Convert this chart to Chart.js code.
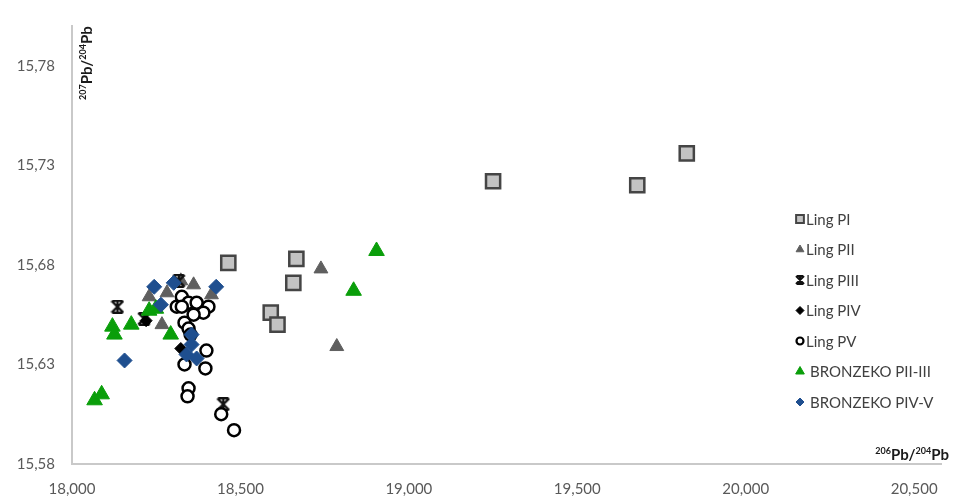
<!DOCTYPE html>
<html>
<head>
<meta charset="utf-8">
<script src="https://cdn.jsdelivr.net/npm/chart.js@4.4.1/dist/chart.umd.min.js"></script>
<style>
  body { margin: 0; background: #fff; }
  #wrap { width: 954px; height: 497px; }
</style>
</head>
<body>
<div id="wrap"><canvas id="graficoPb"></canvas></div>
<script>
// eixos
const xTicks = [18000, 18500, 19000, 19500, 20000, 20500];
const yTicks = [15.58, 15.63, 15.68, 15.73, 15.78];

// séries (206Pb/204Pb, 207Pb/204Pb)
const nomes = ['Ling PI', 'Ling PII', 'Ling PIII', 'Ling PIV', 'Ling PV', 'BRONZEKO PII-III', 'BRONZEKO PIV-V'];

const lingPI_x = [19825, 19678, 19250, 18464, 18666, 18657, 18590, 18610];
const lingPI_y = [15.736, 15.720, 15.722, 15.681, 15.683, 15.671, 15.656, 15.650];

const lingPII_x = [18739, 18786, 18361, 18323, 18267, 18229, 18414, 18282];
const lingPII_y = [15.678, 15.639, 15.670, 15.672, 15.650, 15.664, 15.665, 15.666];

const lingPIII_x = [18135, 18214, 18449, 18317];
const lingPIII_y = [15.659, 15.653, 15.610, 15.672];

const lingPIV_x = [18323, 18220];
const lingPIV_y = [15.638, 15.652];

const lingPV_x = [18326, 18311, 18346, 18370, 18405, 18390, 18334, 18346, 18352, 18399, 18334, 18396, 18346, 18343, 18443, 18481, 18326, 18361];
const lingPV_y = [15.664, 15.659, 15.661, 15.661, 15.659, 15.656, 15.651, 15.648, 15.645, 15.637, 15.630, 15.628, 15.618, 15.614, 15.605, 15.597, 15.659, 15.655];

const bronzePII_x = [18067, 18088, 18120, 18126, 18176, 18229, 18249, 18293, 18836, 18904];
const bronzePII_y = [15.612, 15.615, 15.649, 15.645, 15.650, 15.657, 15.658, 15.645, 15.667, 15.687];

const bronzePIV_x = [18244, 18302, 18264, 18428, 18156, 18355, 18340, 18370, 18355];
const bronzePIV_y = [15.669, 15.671, 15.660, 15.669, 15.632, 15.645, 15.635, 15.633, 15.640];

function pontos(xs, ys) {
    return xs.map((x, i) => ({ x: x, y: ys[i] }));
}

// marcador "estrela" do Excel (X com barra vertical e traços em cima/em baixo)
function marcadorEstrela(tam, cor, lw) {
    const c = document.createElement('canvas');
    c.width = tam; c.height = tam;
    const g = c.getContext('2d');
    g.strokeStyle = cor;
    g.lineWidth = lw;
    const a = lw / 2, b = tam - lw / 2, m = tam / 2;
    g.beginPath();
    g.moveTo(a, a); g.lineTo(b, b);
    g.moveTo(b, a); g.lineTo(a, b);
    g.moveTo(m, a); g.lineTo(m, b);
    g.moveTo(a + 1, a); g.lineTo(b - 1, a);
    g.moveTo(a + 1, b); g.lineTo(b - 1, b);
    g.stroke();
    return c;
}

const estrelaGrande = marcadorEstrela(14, '#111', 2.2);
const estrelaLegenda = marcadorEstrela(10, '#111', 2);

// estilo de cada série: [pointStyle, raio, preenchimento, borda, espessura]
const estilos = [
    ['rect', 10, '#c3c3c3', '#454545', 2.5],
    ['triangle', 8, '#5f5f5f', '#5f5f5f', 1],
    [estrelaGrande, 7, '#000', '#111', 2],
    ['rectRot', 6, '#000', '#000', 1],
    ['circle', 6, '#fff', '#000', 2.5],
    ['triangle', 9, '#0a9e0a', '#0a9e0a', 1],
    ['rectRot', 7.5, '#1f4f8f', '#1f4f8f', 1]
];
// marcadores da legenda: [pointStyle, raio, espessura]
const estilosLegenda = [
    ['rect', 5.5, 2],
    ['triangle', 4.5, 1],
    [estrelaLegenda, 5, 1],
    ['rectRot', 4, 1],
    ['circle', 3.5, 2.2],
    ['triangle', 5, 1],
    ['rectRot', 4, 1]
];

const dadosX = [lingPI_x, lingPII_x, lingPIII_x, lingPIV_x, lingPV_x, bronzePII_x, bronzePIV_x];
const dadosY = [lingPI_y, lingPII_y, lingPIII_y, lingPIV_y, lingPV_y, bronzePII_y, bronzePIV_y];

const datasets = nomes.map((nome, i) => ({
    label: nome,
    data: pontos(dadosX[i], dadosY[i]),
    pointStyle: estilos[i][0],
    pointRadius: estilos[i][1],
    pointHoverRadius: estilos[i][1],
    pointBackgroundColor: estilos[i][2],
    pointBorderColor: estilos[i][3],
    pointBorderWidth: estilos[i][4],
    showLine: false,
    order: nomes.length - i // a última série fica por cima
}));

const fonte = 'Lato, "Open Sans", sans-serif';

function desenharPartes(ctx, partes, x, y) {
    let cx = x;
    partes.forEach(([txt, sup]) => {
        ctx.font = sup ? 'bold 9px ' + fonte : 'bold 15px ' + fonte;
        ctx.fillText(txt, cx, sup ? y - 6 : y);
        cx += ctx.measureText(txt).width;
    });
    return cx - x;
}

function larguraPartes(ctx, partes) {
    let w = 0;
    partes.forEach(([txt, sup]) => {
        ctx.font = sup ? 'bold 9px ' + fonte : 'bold 15px ' + fonte;
        w += ctx.measureText(txt).width;
    });
    return w;
}

// títulos dos eixos e legenda dentro da área do gráfico
const extras = {
    id: 'extras',
    afterDraw(chart) {
        const ctx = chart.ctx;
        ctx.save();
        ctx.fillStyle = '#1a1a1a';
        ctx.textAlign = 'left';
        ctx.textBaseline = 'alphabetic';

        const tituloX = [['206', true], ['Pb/', false], ['204', true], ['Pb', false]];
        const wx = larguraPartes(ctx, tituloX);
        desenharPartes(ctx, tituloX, 949 - wx, 460);

        const tituloY = [['207', true], ['Pb/', false], ['204', true], ['Pb', false]];
        ctx.save();
        ctx.translate(92, 100);
        ctx.rotate(-Math.PI / 2);
        desenharPartes(ctx, tituloY, 0, 0);
        ctx.restore();

        // legenda
        chart.data.datasets.forEach((ds, i) => {
            const y = 219 + i * 30.5;
            const est = estilos[i];
            const leg = estilosLegenda[i];
            ctx.fillStyle = est[2];
            ctx.strokeStyle = est[3];
            ctx.lineWidth = leg[2];
            Chart.helpers.drawPoint(ctx, { pointStyle: leg[0], radius: leg[1], rotation: 0, borderWidth: leg[2] }, 800, y);
            ctx.fillStyle = '#404040';
            ctx.font = '15px ' + fonte;
            ctx.textBaseline = 'middle';
            ctx.fillText(ds.label, i >= 5 ? 810 : 806, y + 1);
        });
        ctx.restore();
    }
};

const ctx = document.getElementById('graficoPb').getContext('2d');
const grafico = new Chart(ctx, {
    type: 'scatter',
    data: { datasets: datasets },
    options: {
        responsive: true,
        maintainAspectRatio: false,
        animation: false,
        layout: { padding: { top: 13, right: 2, left: 0, bottom: 0 } },
        plugins: {
            legend: { display: false },
            tooltip: { enabled: false }
        },
        scales: {
            x: {
                type: 'linear',
                min: 18000,
                max: 20580,
                afterBuildTicks: (s) => { s.ticks = xTicks.map(v => ({ value: v })); },
                afterFit: (s) => { s.height = 33; },
                grid: { display: false, drawTicks: false },
                border: { display: true, color: '#c9c9c9', width: 2 },
                ticks: {
                    padding: 16,
                    color: '#595959',
                    font: { family: fonte, size: 15 },
                    maxRotation: 0,
                    callback: (v) => v.toLocaleString('en-US')
                }
            },
            y: {
                type: 'linear',
                min: 15.58,
                max: 15.80,
                afterBuildTicks: (s) => { s.ticks = yTicks.map(v => ({ value: v })); },
                afterFit: (s) => { s.width = 72; },
                grid: { display: false, drawTicks: false },
                border: { display: true, color: '#c9c9c9', width: 2 },
                ticks: {
                    padding: 17,
                    color: '#595959',
                    font: { family: fonte, size: 15 },
                    callback: (v) => v.toFixed(2).replace('.', ',')
                }
            }
        }
    },
    plugins: [extras]
});
</script>
</body>
</html>
